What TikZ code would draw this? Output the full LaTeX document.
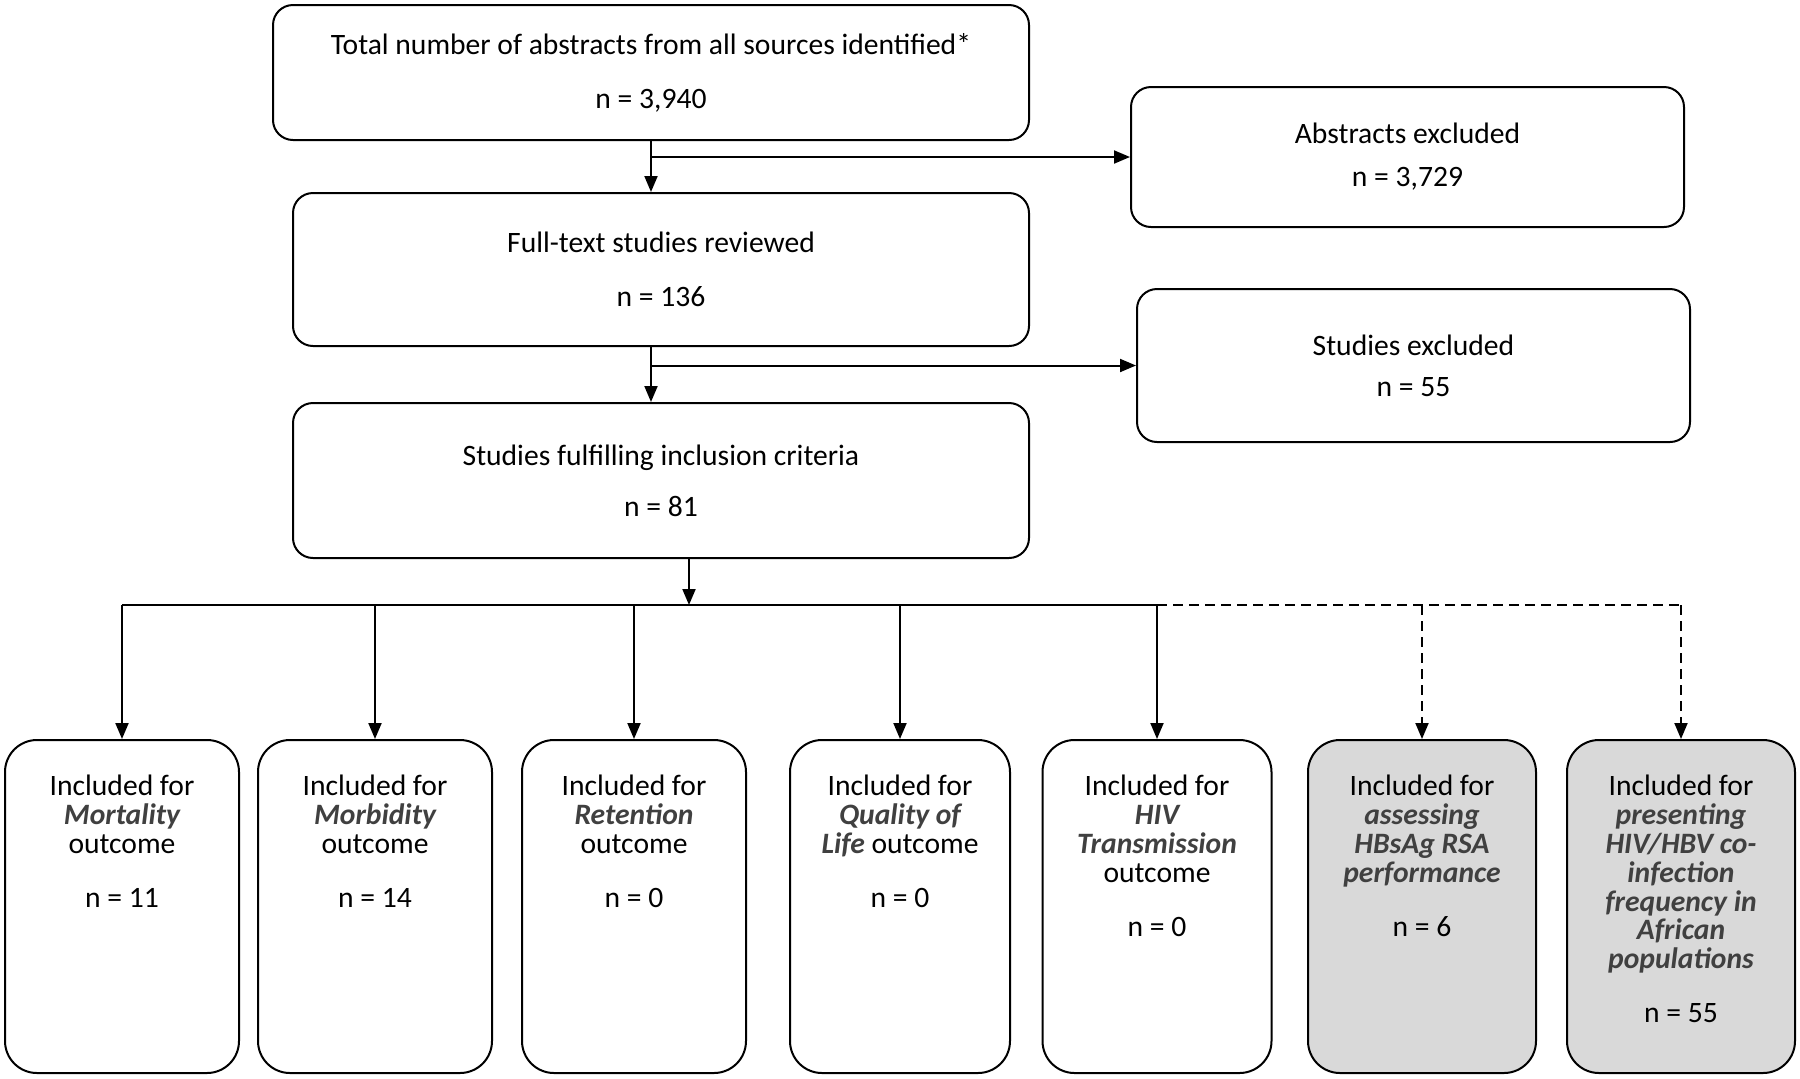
\documentclass[tikz,border=0pt]{standalone}
\usepackage{fontspec}
\setmainfont{Carlito}
\usetikzlibrary{calc,positioning,arrows.meta}
\definecolor{boxgray}{HTML}{D9D9D9}
\newcommand{\bfit}[1]{\textbf{\textit{\color{black!75}#1}}}

\begin{document}
\begin{tikzpicture}[x=0.5pt,y=-0.5pt,
  box/.style={draw,line width=1pt,rounded corners=10pt,align=center,font=\fontsize{14.8}{14.4}\selectfont},
  outbox/.style={draw,line width=1pt,rounded corners=16pt,minimum height=166.5pt},
  outtext/.style={anchor=north,inner sep=0pt,align=center,font=\fontsize{14.8}{14.4}\selectfont},
  arr/.style={line width=1pt,-{Triangle[length=8pt,width=6.5pt]}},
  dasharr/.style={arr,dash pattern=on 5pt off 3pt}]
\useasboundingbox (0,0) rectangle (1800,1078);
\node[box,minimum width=378pt,minimum height=67.5pt] (total) at (651,72.5) {Total number of abstracts from all sources identified*\\[12.6pt] n = 3,940};
\node[box,minimum width=276.5pt,minimum height=70pt] (absexcl) at (1407.5,157) {Abstracts excluded\\[7pt] n = 3,729};
\node[box,minimum width=368pt,minimum height=76.5pt] (fulltext) at (661,269.5) {Full-text studies reviewed\\[12.6pt] n = 136};
\node[box,minimum width=276.5pt,minimum height=76.5pt] (studexcl) at (1413.5,365.5) {Studies excluded\\[6pt] n = 55};
\node[box,minimum width=368pt,minimum height=77.5pt] (incl) at (661,480.5) {Studies fulfilling inclusion criteria\\[11pt] n = 81};
\node[outbox,minimum width=117pt] (mort) at (122,906.5) {};
\node[outbox,minimum width=117pt] (morb) at (375,906.5) {};
\node[outbox,minimum width=112pt] (ret) at (634,906.5) {};
\node[outbox,minimum width=110pt] (qol) at (900,906.5) {};
\node[outbox,minimum width=114.5pt] (hivt) at (1157,906.5) {};
\node[outbox,minimum width=114pt,fill=boxgray] (rsa) at (1422,906.5) {};
\node[outbox,minimum width=114pt,fill=boxgray] (coinf) at (1681,906.5) {};
\node[outtext] (morttxt) at ($(mort.north)+(0,36)$) {Included for\\ \bfit{Mortality}\\ outcome\\[12.6pt] n = 11};
\node[outtext] (morbtxt) at ($(morb.north)+(0,36)$) {Included for\\ \bfit{Morbidity}\\ outcome\\[12.6pt] n = 14};
\node[outtext] (rettxt) at ($(ret.north)+(0,36)$) {Included for\\ \bfit{Retention}\\ outcome\\[12.6pt] n = 0};
\node[outtext] (qoltxt) at ($(qol.north)+(0,36)$) {Included for\\ \bfit{Quality of}\\ \bfit{Life} outcome\\[12.6pt] n = 0};
\node[outtext] (hivttxt) at ($(hivt.north)+(0,36)$) {Included for\\ \bfit{HIV}\\ \bfit{Transmission}\\ outcome\\[12.6pt] n = 0};
\node[outtext] (rsatxt) at ($(rsa.north)+(0,36)$) {Included for\\ \bfit{assessing}\\ \bfit{HBsAg RSA}\\ \bfit{performance}\\[12.6pt] n = 6};
\node[outtext] (coinftxt) at ($(coinf.north)+(0,36)$) {Included for\\ \bfit{presenting}\\ \bfit{HIV/HBV co-}\\ \bfit{infection}\\ \bfit{frequency in}\\ \bfit{African}\\ \bfit{populations}\\[12.6pt] n = 55};
\coordinate (split) at (689,605);
\draw[arr] (total.south) -- (total.south |- fulltext.north);
\draw[arr] (total.south |- absexcl.west) -- (absexcl.west);
\draw[arr] (total.south |- fulltext.south) -- (total.south |- incl.north);
\draw[arr] (total.south |- studexcl.west) -- (studexcl.west);
\draw[arr] (split |- incl.south) -- (split);
\draw[line width=1pt] (mort.north |- split) -- (hivt.north |- split);
\draw[line width=1pt,dash pattern=on 5pt off 3pt] (hivt.north |- split) -- (coinf.north |- split);
\foreach \b in {mort,morb,ret,qol,hivt} \draw[arr] (\b.north |- split) -- (\b.north);
\foreach \b in {rsa,coinf} \draw[dasharr] (\b.north |- split) -- (\b.north);
\end{tikzpicture}
\end{document}
